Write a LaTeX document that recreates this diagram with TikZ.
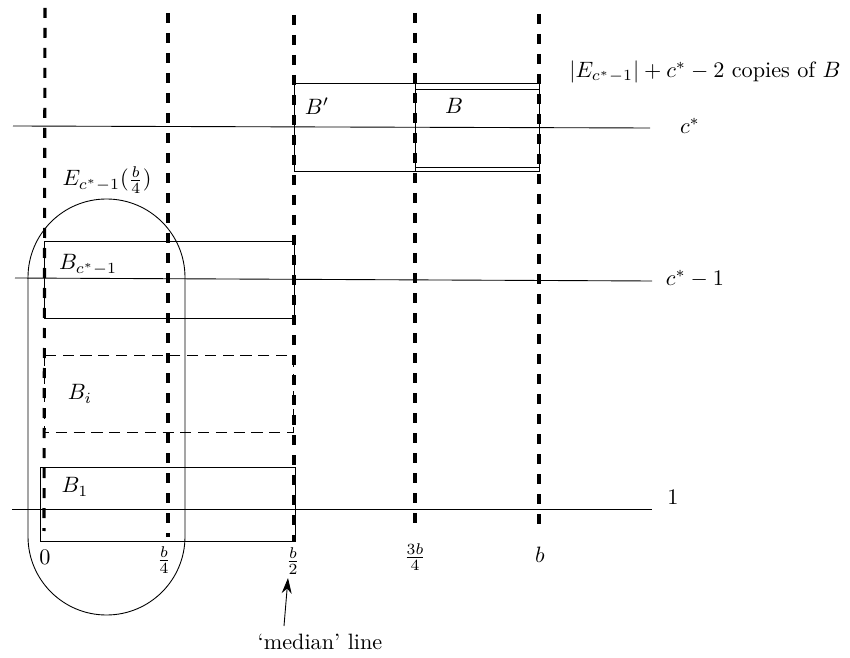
\documentclass[tikz,border=0pt]{standalone}
\usetikzlibrary{arrows.meta}
\begin{document}
\begin{tikzpicture}[x=0.45pt,y=-0.45pt,
  thinline/.style={line width=0.4pt},
  guide/.style={line width=1.4pt, dash pattern=on 4.5pt off 4.5pt},
  lbl/.style={inner sep=0pt}]
\useasboundingbox (0,0) rectangle (850,658);

% horizontal levels
\draw[thinline] (13,126) -- (650,128);
\draw[thinline] (15,278) -- (652,281);
\draw[thinline] (12,509) -- (652,509);

% boxes
\draw[thinline] (294,83) rectangle (415,171);
\draw[thinline] (415,83) rectangle (539,171);
\draw[thinline] (415,89) rectangle (539,167);
\draw[thinline] (44,241) rectangle (294,318);
\draw[thinline, dash pattern=on 5pt off 3pt] (44,355) rectangle (293,432);
\draw[thinline] (40,467) rectangle (295,541);
% stadium E
\draw[thinline, rounded corners=35.3pt] (28,199) rectangle (185,615);

% guide lines
\draw[guide] (45,8) -- (44,531);
\draw[guide] (168,13) -- (168,537);
\draw[guide] (294,15) -- (294,541);
\draw[guide] (415,13) -- (415,530);
\draw[guide] (539,14) -- (539,529);

% labels
\node[lbl] (copies) at (705,72) {$|E_{c^*-1}|+c^*-2$ copies of $B$};
\node[lbl] (lcstar) at (690,126) {$c^*$};
\node[lbl] (lcm1) at (695,279) {$c^*-1$};
\node[lbl] (lone) at (673,497) {$1$};
\node[lbl] (Bp) at (317,106) {$B'$};
\node[lbl] (B) at (454,106) {$B$};
\node[lbl] (E) at (107,180) {$E_{c^*-1}(\frac{b}{4})$};
\node[lbl] (Bc) at (88,265) {$B_{c^*-1}$};
\node[lbl] (Bi) at (80,394) {$B_i$};
\node[lbl] (B1) at (75,487) {$B_1$};
\node[lbl] (x0) at (45,557) {$0$};
\node[lbl] (x1) at (164,560) {$\frac{b}{4}$};
\node[lbl] (x2) at (293,561) {$\frac{b}{2}$};
\node[lbl] (x3) at (415,557) {$\frac{3b}{4}$};
\node[lbl] (x4) at (540,555) {$b$};
\node[lbl] (median) at (320,642) {`median' line};

\coordinate (arrtail) at (284,626);
\coordinate (arrtip) at (288,578);
\draw[thinline, -{Stealth[length=7pt,width=4.5pt]}] (arrtail) -- (arrtip);
\end{tikzpicture}
\end{document}
